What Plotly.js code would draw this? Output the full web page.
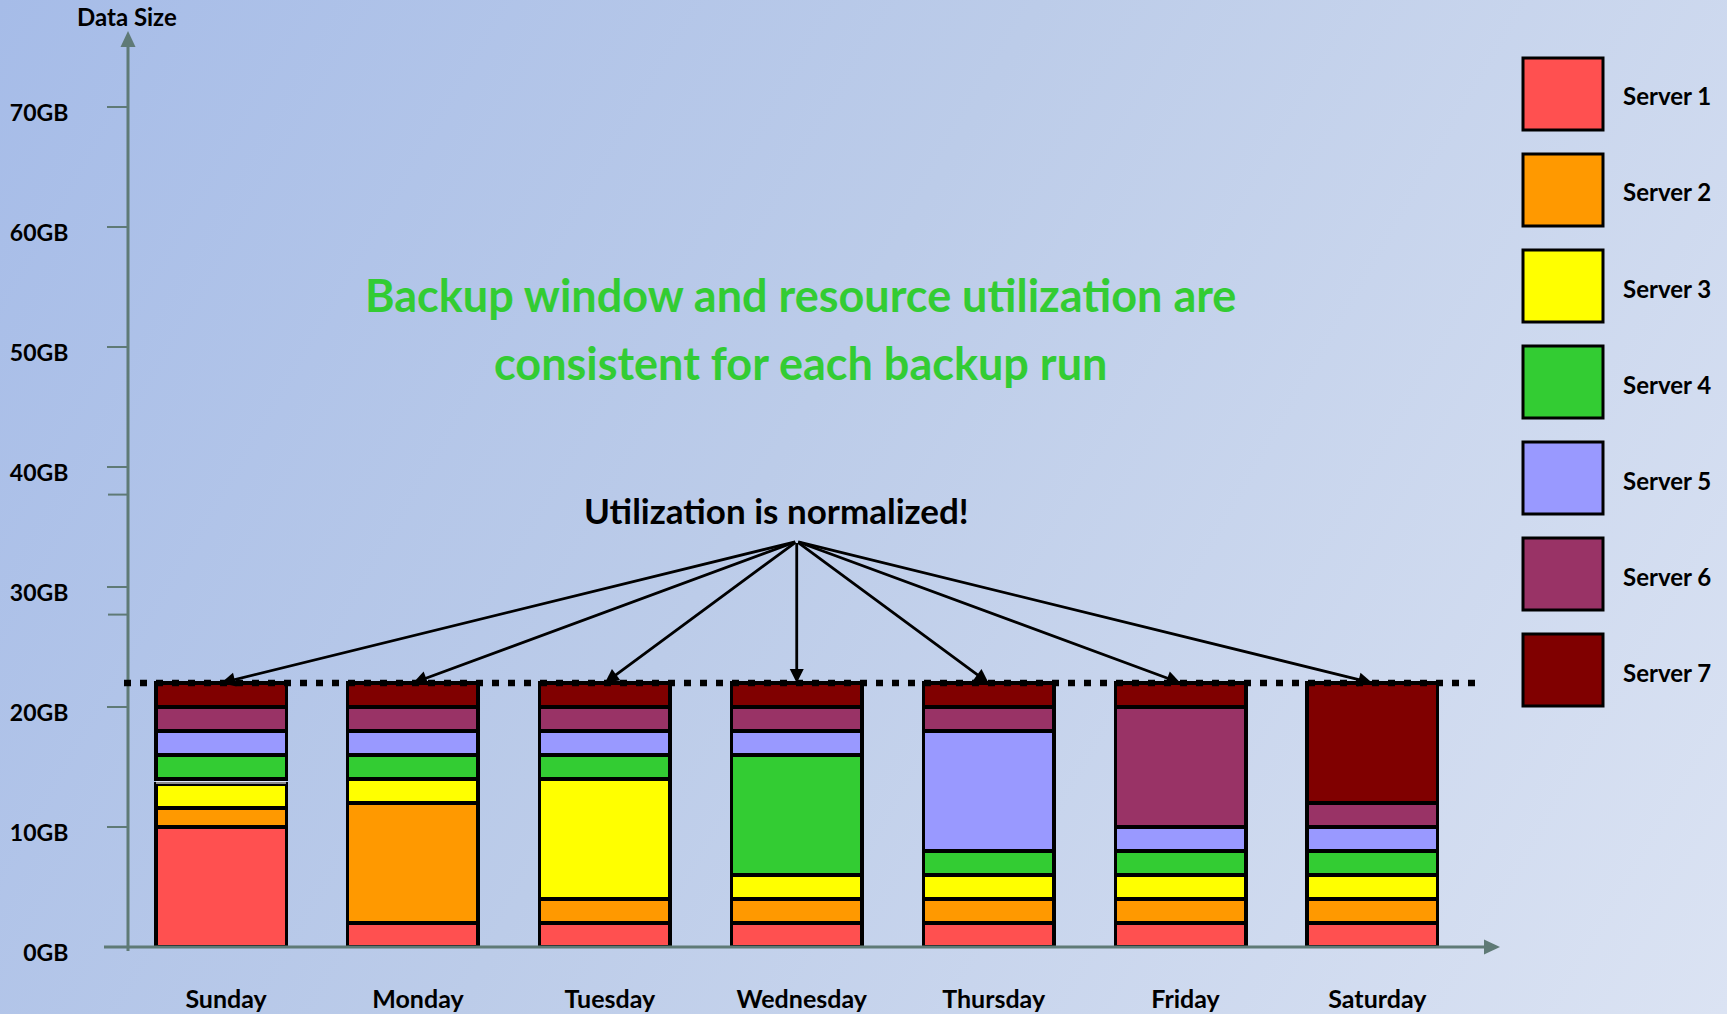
<!DOCTYPE html>
<html>
<head>
<meta charset="utf-8">
<script src="https://cdn.plot.ly/plotly-3.0.1.min.js"></script>
<style>
  html, body { margin: 0; padding: 0; }
  body {
    width: 1727px; height: 1014px; overflow: hidden;
    background: linear-gradient(120deg, #a6bce8 0%, #bccce9 45%, #dbe3f3 100%);
  }
  #chart { width: 1727px; height: 1014px; }
</style>
</head>
<body>
<div id="chart"></div>
<script>
// ---- data ----
const days = ['Sunday', 'Monday', 'Tuesday', 'Wednesday', 'Thursday', 'Friday', 'Saturday'];
const seriesNames = ['Server 1', 'Server 2', 'Server 3', 'Server 4', 'Server 5', 'Server 6', 'Server 7'];
const server1 = [10, 2, 2, 2, 2, 2, 2];
const server2 = [1.6, 10, 2, 2, 2, 2, 2];
const server3 = [2, 2, 10, 2, 2, 2, 2];
const sundayGap = [0.4, 0, 0, 0, 0, 0, 0];
const server4 = [2, 2, 2, 10, 2, 2, 2];
const server5 = [2, 2, 2, 2, 10, 2, 2];
const server6 = [2, 2, 2, 2, 2, 10, 2];
const server7 = [2, 2, 2, 2, 2, 2, 10];
const yTicks = [0, 10, 20, 30, 40, 50, 60, 70];
const yTickLabels = ['0GB', '10GB', '20GB', '30GB', '40GB', '50GB', '60GB', '70GB'];
const normalizedLevel = 22;
const headline1 = 'Backup window and resource utilization are';
const headline2 = 'consistent for each backup run';
const calloutText = 'Utilization is normalized!';
const axisTitle = 'Data Size';

// ---- styles ----
const colors = ['#FF5050', '#FF9900', '#FFFF00', '#33CC33', '#9999FF', '#993366', '#800000'];
const FONT = 'Lato, "Open Sans", sans-serif';
const AXIS = '#5f7a76';
const W = 1727, H = 1014;
const M = {l: 128, r: 227, t: 47, b: 67};
const PW = W - M.l - M.r, PH = H - M.t - M.b;
const px = x => (x - M.l) / PW;
const py = y => (H - M.b - y) / PH;

const seriesValues = [server1, server2, server3, server4, server5, server6, server7];
const traces = [];
seriesValues.forEach((vals, i) => {
  if (i === 3) {
    traces.push({
      type: 'bar', x: days, y: sundayGap, name: 'gap', showlegend: false, hoverinfo: 'skip',
      width: 0.68, marker: {color: 'rgba(255,255,255,0.55)', line: {width: 0}}
    });
  }
  traces.push({
    type: 'bar', x: days, y: vals, name: seriesNames[i], width: 0.68,
    marker: {color: colors[i], line: {color: '#000000', width: 3.5}}
  });
});

const shapes = [];
const annotations = [];

// axes with arrowheads
shapes.push({type: 'line', xref: 'paper', yref: 'paper', x0: px(128), x1: px(128), y0: py(951), y1: py(46),
  line: {color: AXIS, width: 3}});
shapes.push({type: 'path', xref: 'paper', yref: 'paper',
  path: `M ${px(120.5)} ${py(47)} L ${px(135.5)} ${py(47)} L ${px(128)} ${py(31)} Z`,
  fillcolor: AXIS, line: {width: 0}});
shapes.push({type: 'line', xref: 'paper', yref: 'paper', x0: px(104), x1: px(1486), y0: py(947), y1: py(947),
  line: {color: AXIS, width: 3}});
shapes.push({type: 'path', xref: 'paper', yref: 'paper',
  path: `M ${px(1484)} ${py(939.5)} L ${px(1484)} ${py(954.5)} L ${px(1500)} ${py(947)} Z`,
  fillcolor: AXIS, line: {width: 0}});
// stray extra axis ticks in the original
[37.7, 27.7].forEach(v => shapes.push({type: 'line', xref: 'paper', yref: 'y', x0: px(108), x1: px(128), y0: v, y1: v,
  line: {color: AXIS, width: 2}}));

// normalized level dotted line
shapes.push({type: 'line', xref: 'paper', yref: 'y', x0: px(124), x1: px(1482), y0: normalizedLevel, y1: normalizedLevel,
  line: {color: '#000000', width: 6.5, dash: '7px,9px'}});

// legend boxes
seriesNames.forEach((n, i) => {
  const top = 58 + i * 96;
  shapes.push({type: 'rect', xref: 'paper', yref: 'paper', x0: px(1523), x1: px(1603), y0: py(top), y1: py(top + 72),
    fillcolor: colors[i], line: {color: '#000000', width: 3}});
  annotations.push({xref: 'paper', yref: 'paper', x: px(1621), y: py(top + 38), xanchor: 'left', yanchor: 'middle',
    text: '<b>' + n + '</b>', showarrow: false, font: {family: FONT, size: 24, color: '#000000'}});
});

// arrows from callout to each bar
const mid = (days.length - 1) / 2;
days.forEach((d, i) => {
  annotations.push({x: i, y: normalizedLevel, xref: 'x', yref: 'y', axref: 'x', ayref: 'y', ax: mid, ay: 33.8,
    text: '', showarrow: true, arrowhead: 2, arrowsize: 1.0, arrowwidth: 2.8, arrowcolor: '#000000', standoff: 0});
});

annotations.push({xref: 'paper', yref: 'paper', x: px(776), y: py(510), xanchor: 'center', yanchor: 'middle',
  text: '<b>' + calloutText + '</b>', showarrow: false, font: {family: FONT, size: 35, color: '#000000'}});
annotations.push({xref: 'paper', yref: 'paper', x: px(800), y: py(295), xanchor: 'center', yanchor: 'middle',
  text: '<b>' + headline1 + '</b>', showarrow: false, font: {family: FONT, size: 45, color: '#33CC33'}});
annotations.push({xref: 'paper', yref: 'paper', x: px(800), y: py(363), xanchor: 'center', yanchor: 'middle',
  text: '<b>' + headline2 + '</b>', showarrow: false, font: {family: FONT, size: 45, color: '#33CC33'}});
annotations.push({xref: 'paper', yref: 'paper', x: px(127), y: py(17), xanchor: 'center', yanchor: 'middle',
  text: '<b>' + axisTitle + '</b>', showarrow: false, font: {family: FONT, size: 24, color: '#000000'}});

const layout = {
  width: W, height: H,
  margin: M,
  paper_bgcolor: 'rgba(0,0,0,0)', plot_bgcolor: 'rgba(0,0,0,0)',
  barmode: 'stack', bargap: 0.3,
  showlegend: false,
  font: {family: FONT, color: '#000000'},
  xaxis: {
    type: 'category', range: [-0.485, 6.665], showgrid: false, zeroline: false, showline: false,
    ticks: '', tickfont: {family: FONT, size: 25, color: '#000000'},
    ticklabelstandoff: 35, ticklabelshift: 5, fixedrange: true
  },
  yaxis: {
    range: [0, 75], tickvals: yTicks, ticktext: yTickLabels.map(t => '<b>' + t + '</b>'),
    showgrid: false, zeroline: false, showline: false,
    ticks: 'outside', ticklen: 20, tickwidth: 2, tickcolor: AXIS,
    tickfont: {family: FONT, size: 23, color: '#000000'},
    ticklabelstandoff: 34, ticklabelshift: 6, fixedrange: true
  },
  shapes: shapes,
  annotations: annotations
};
layout.xaxis.tickvals = days;
layout.xaxis.ticktext = days.map(d => '<b>' + d + '</b>');

Plotly.newPlot('chart', traces, layout, {displayModeBar: false, staticPlot: true});
</script>
</body>
</html>
